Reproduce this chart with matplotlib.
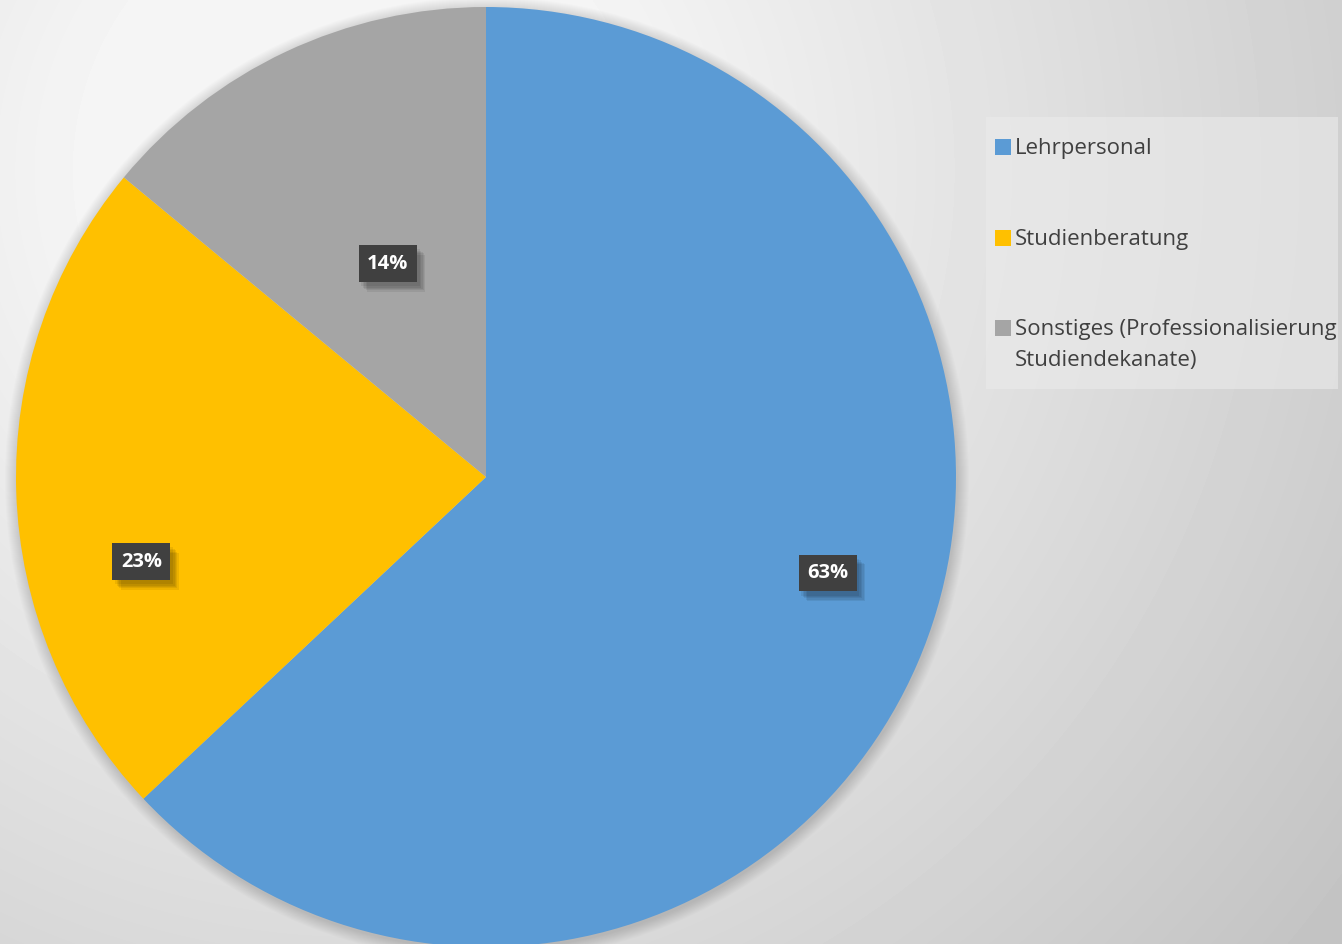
import numpy as np
import matplotlib
matplotlib.use("Agg")
import matplotlib.pyplot as plt
from matplotlib.patches import Circle, Rectangle
from matplotlib import patheffects as pe

# Data
categories = ["Lehrpersonal", "Studienberatung",
              "Sonstiges (Professionalisierung\nStudiendekanate)"]
shares = [63, 23, 14]
colors = ["#5B9BD5", "#FFC000", "#A5A5A5"]

W, H = 1342, 944
plt.rcParams['font.family'] = ['Open Sans', 'DejaVu Sans']

fig = plt.figure(figsize=(W / 100, H / 100), dpi=100)

# background: soft radial gradient
bg = fig.add_axes([0, 0, 1, 1])
yy, xx = np.mgrid[0:H, 0:W]
d = np.hypot(xx - 360, yy - 170)
v = np.clip(259 - 0.052 * d, 195, 245) / 255.0
bg.imshow(v, cmap="gray", vmin=0, vmax=1, extent=[0, W, 0, H],
          origin="upper", aspect="auto")
bg.axis("off")

ax = fig.add_axes([0, 0, 1, 1])
ax.set_facecolor("none")
cx, cy, r = 486, H - 477, 470

# soft shadow around the pie
for k in range(12):
    ax.add_patch(Circle((cx + 1, cy - 2), r + 12 - k, color="black",
                        alpha=0.012, lw=0, zorder=0))

wedges, texts, autotexts = ax.pie(
    shares, colors=colors, startangle=90, counterclock=False,
    center=(cx, cy), radius=r, autopct="%.0f%%", pctdistance=0.75,
    wedgeprops=dict(linewidth=0), frame=True)

# label placement (fraction of radius, angle in degrees)
label_pos = [(0.755, -15.7), (0.755, 193.8), (0.50, 114.7)]
shadow = [pe.withSimplePatchShadow(offset=(2 + k, -3 - k), shadow_rgbFace="black",
                                   alpha=0.07) for k in range(5)]
for t, (fr, ang) in zip(autotexts, label_pos):
    a = np.radians(ang)
    t.set_position((cx + fr * r * np.cos(a), cy + fr * r * np.sin(a)))
    t.set_color("white")
    t.set_fontsize(14.5)
    t.set_fontweight("bold")
    t.set_bbox(dict(boxstyle="square,pad=0.42", fc="#404040", ec="none"))
    t.get_bbox_patch().set_path_effects(shadow + [pe.Normal()])

ax.set_xlim(0, W)
ax.set_ylim(0, H)
ax.set_aspect("equal")
ax.axis("off")

# legend box
ax.add_patch(Rectangle((986, H - 389), 352, 272, fc="#ebebeb", ec="none",
                       alpha=0.6, zorder=1))
legend_y = [147, 238, 328]
for c, lab, ly in zip(colors, categories, legend_y):
    ax.add_patch(Rectangle((995, H - ly - 8), 16, 16, fc=c, ec="none", zorder=2))
    ax.text(1015, H - ly + 9, lab, fontsize=16, color="#404040", va="top",
            ha="left", zorder=3, linespacing=1.65)

fig.savefig("out.png", dpi=100)
